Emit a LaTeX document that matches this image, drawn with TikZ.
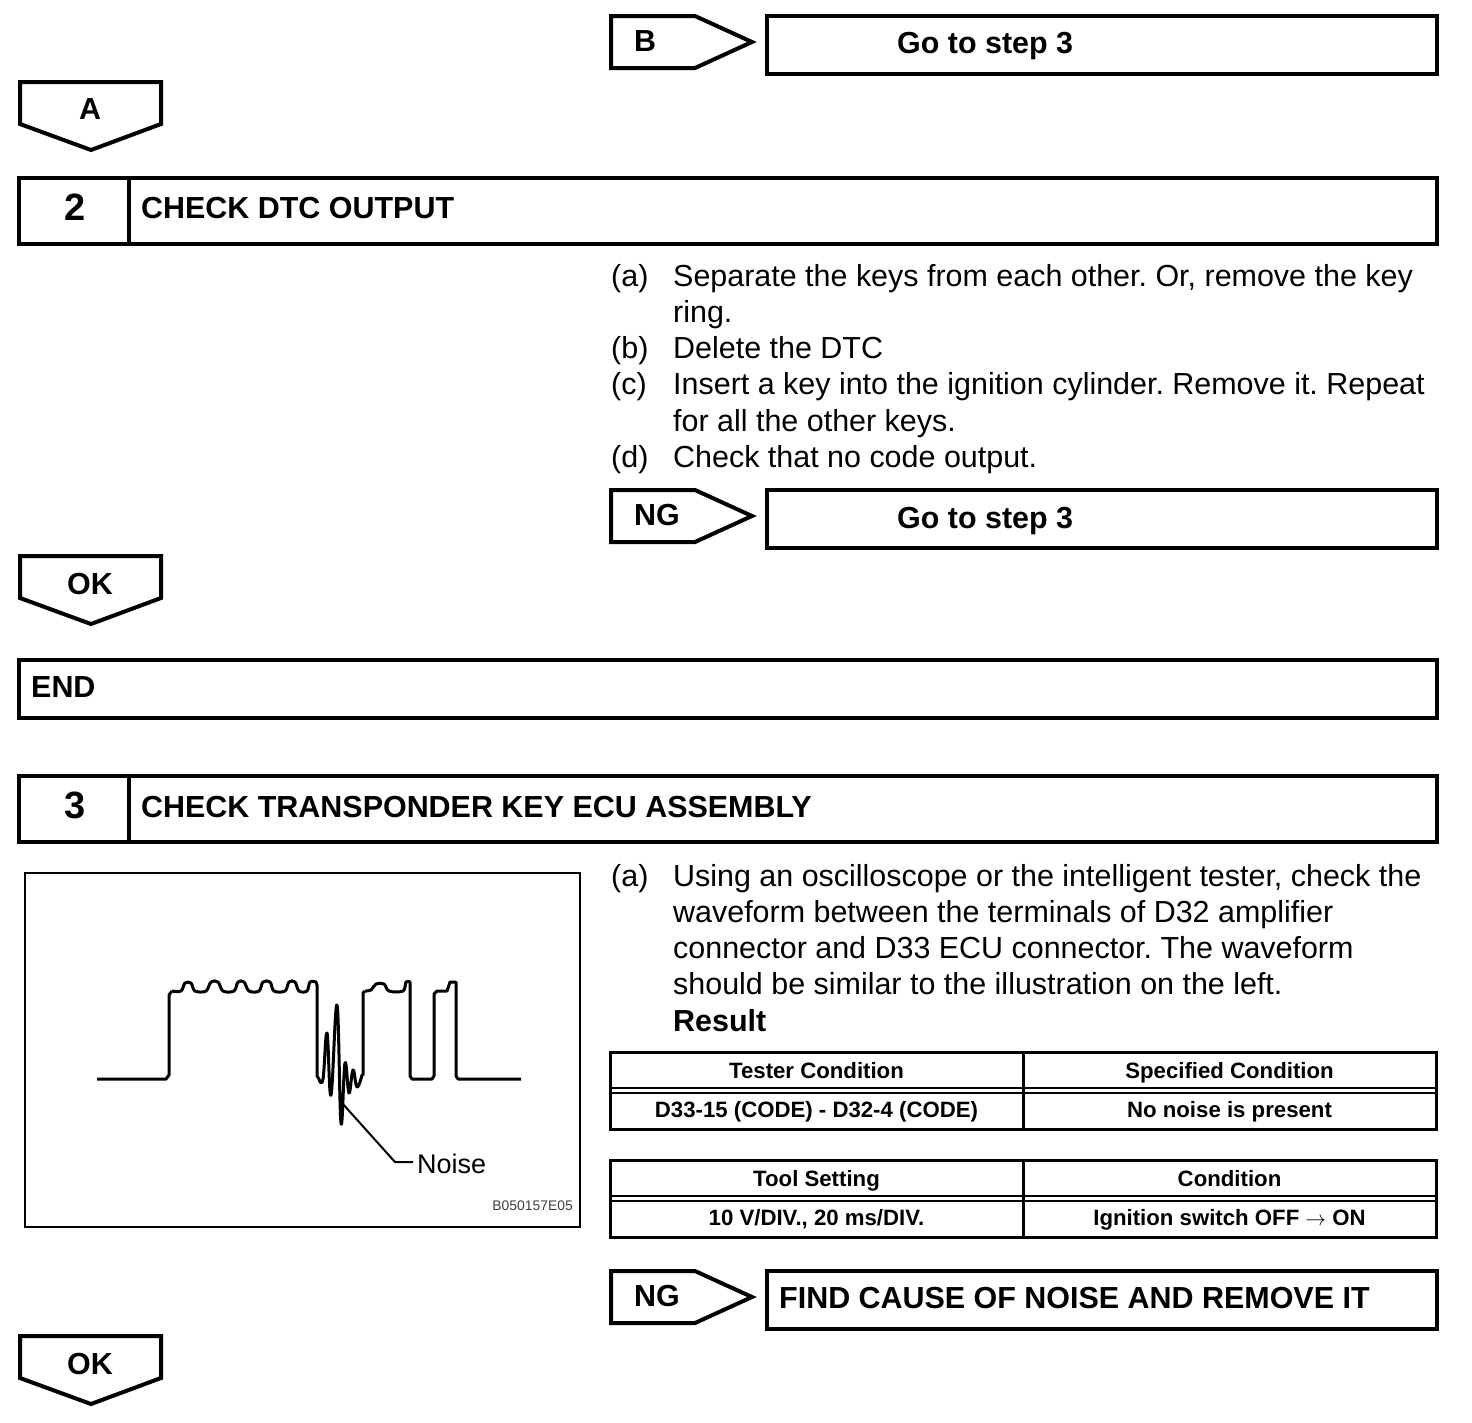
\documentclass[tikz,border=0pt]{standalone}
\usepackage{fontspec}
\setmainfont{Liberation Sans}
\usetikzlibrary{arrows.meta,positioning,calc}

\tikzset{
    heavy/.style={line width=4pt, miter limit=10},
    bodytxt/.style={anchor=base west, inner sep=0pt, font=\fontsize{30.45}{36}\selectfont\frenchspacing},
    headtxt/.style={anchor=base west, inner sep=0pt, font=\fontsize{30.45}{36}\selectfont\bfseries\frenchspacing},
    numtxt/.style={inner sep=0pt, font=\fontsize{38}{40}\selectfont\bfseries},
    celltxt/.style={anchor=base, inner sep=0pt, font=\fontsize{22.2}{26}\selectfont\bfseries},
    wave/.style={line width=3pt, line join=round},
}

\begin{document}
\begin{tikzpicture}[x=1pt,y=-1pt]
    \useasboundingbox (0,0) rectangle (1472,1422);

    % Down tags
    \foreach \y/\d/\t/\n in {82/27/A/tagA, 556/28/OK/tagOKa, 1336/28/OK/tagOKb}{
        \draw[heavy] (20,\y) -- (161,\y) -- (161,\y+42) -- (91,\y+68) -- (20,\y+42) -- cycle;
        \node[numtxt, font=\fontsize{30.45}{36}\selectfont\bfseries] (\n) at (90,\y+\d) {\t};
    }

    % Side tags with their boxes
    \foreach \y/\t/\n in {16/B/tagB, 490/NG/tagNGa, 1271/NG/tagNGb}{
        \draw[heavy] (611,\y) -- (695,\y) -- (752,\y+26) -- (695,\y+52) -- (611,\y+52) -- cycle;
        \draw[heavy] (767,\y) rectangle (1437,\y+58);
        \node[headtxt] (\n) at (634,\y+35) {\t};
    }
    \node[headtxt] (goB) at (897,53) {Go to step 3};
    \node[headtxt] (goNG) at (897,528) {Go to step 3};
    \node[headtxt] (find) at (779,1308) {FIND CAUSE OF NOISE AND REMOVE IT};

    % Step headers
    \foreach \y/\b/\s/\t in {178/40/2/CHECK DTC OUTPUT, 776/41/3/CHECK TRANSPONDER KEY ECU ASSEMBLY}{
        \draw[heavy] (19,\y) rectangle (1437,\y+66);
        \draw[heavy] (129,\y) -- (129,\y+66);
        \node[numtxt] (num\s) at (75.5,\y+29) {\s};
        \node[headtxt] (head\s) at (141,\y+\b) {\t};
    }
    \draw[heavy] (19,660) rectangle (1437,718);
    \node[headtxt] (endtxt) at (31,697) {END};

    % Instructions of step 2
    \foreach \y/\l/\t in {286/(a)/{Separate the keys from each other. Or, remove the key},
        322//ring., 358/(b)/Delete the DTC,
        394/(c)/{Insert a key into the ignition cylinder. Remove it. Repeat},
        431//for all the other keys., 467/(d)/Check that no code output.}{
        \node[bodytxt] (la\y) at (611,\y) {\l};
        \node[bodytxt] (ta\y) at (673,\y) {\t};
    }

    % Instructions of step 3
    \node[bodytxt] (lb886) at (611,886) {(a)};
    \foreach \y/\t in {886/{Using an oscilloscope or the intelligent tester, check the},
        922/waveform between the terminals of D32 amplifier,
        958/connector and D33 ECU connector. The waveform,
        994/should be similar to the illustration on the left.}{
        \node[bodytxt] (tb\y) at (673,\y) {\t};
    }
    \node[headtxt] (result) at (673,1031) {Result};

    % Tables
    \foreach \y/\a/\b/\c/\d in {1052/Tester Condition/Specified Condition/D33-15 (CODE) - D32-4 (CODE)/No noise is present,
        1160/Tool Setting/Condition/{10 V/DIV., 20 ms/DIV.}/Ignition switch OFF $\rightarrow$ ON}{
        \draw[line width=3pt] (610,\y) rectangle (1436,\y+77);
        \draw[line width=3pt] (1023,\y) -- (1023,\y+77);
        \draw[line width=2pt] (610,\y+36) -- (1436,\y+36) (610,\y+41) -- (1436,\y+41);
        \node[celltxt] (ca\y) at (816.5,\y+26) {\a};
        \node[celltxt] (cb\y) at (1229.5,\y+26) {\b};
        \node[celltxt] (cc\y) at (816.5,\y+65) {\c};
        \node[celltxt] (cd\y) at (1229.5,\y+65) {\d};
    }

    % Waveform
    \draw[line width=2pt] (25,873) rectangle (580,1227);
    \draw[wave] (97,1079) -- (166,1079) -- (169,1075) -- (169,995) -- (172,991)
        plot[smooth, tension=0.6] coordinates {(172,991) (181,991) (185,983) (191,983) (195,991)
            (206,991) (211,982) (218,982) (223,991) (234,991) (238,982) (244,982) (249,991)
            (259,991) (263,982) (270,982) (274,991) (285,991) (289,982) (295,982) (299,991)
            (307,991) (310,982) (316,982)}
        -- (317,985) -- (317,1076) -- (319,1079)
        plot[smooth, tension=0.7] coordinates {(319,1079) (323,1079) (327,1033) (331,1095) (337,1005)
            (341,1123) (345,1063) (349,1093) (353,1070) (357,1087) (362,1075)}
        -- (363,1075) -- (363,993) -- (365,991)
        plot[smooth, tension=0.6] coordinates {(365,991) (371,990) (376,984) (384,984) (389,991) (403,991) (406,982) (410,982)}
        -- (410,1076) -- (412,1079) -- (432,1079) -- (434,1076) -- (434,994) -- (437,991)
        -- (447,991) -- (450,982) -- (456,982) -- (456,1076) -- (458,1079) -- (521,1079);
    \coordinate (noisepeak) at (342,1103);
    \coordinate (noisetail) at (413,1162);
    \node[bodytxt, font=\fontsize{27}{30}\selectfont] (noise) at (417,1173) {Noise};
    \draw[line width=2pt] (noisepeak) -- (395,1162) -- (noisetail);
    \node[anchor=base east, inner sep=0pt, text=black!75, font=\fontsize{13.9}{15}\selectfont] (figcode) at (573,1210) {B050157E05};
\end{tikzpicture}
\end{document}
